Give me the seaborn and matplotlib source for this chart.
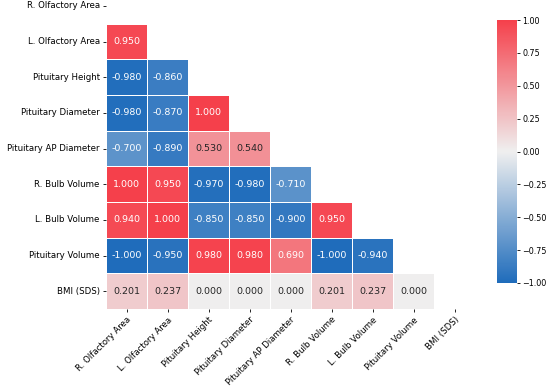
import numpy as np
import pandas as pd
import matplotlib
matplotlib.use("Agg")
import matplotlib.pyplot as plt
import seaborn as sns
from matplotlib.colors import LinearSegmentedColormap

labels = ["R. Olfactory Area", "L. Olfactory Area", "Pituitary Height",
          "Pituitary Diameter", "Pituitary AP Diameter", "R. Bulb Volume",
          "L. Bulb Volume", "Pituitary Volume", "BMI (SDS)"]

# lower triangle, row by row (values left of the diagonal)
row_l_olf = [0.950]
row_pit_height = [-0.980, -0.860]
row_pit_diam = [-0.980, -0.870, 1.000]
row_pit_ap = [-0.700, -0.890, 0.530, 0.540]
row_r_bulb = [1.000, 0.950, -0.970, -0.980, -0.710]
row_l_bulb = [0.940, 1.000, -0.850, -0.850, -0.900, 0.950]
row_pit_vol = [-1.000, -0.950, 0.980, 0.980, 0.690, -1.000, -0.940]
row_bmi = [0.201, 0.237, 0.000, 0.000, 0.000, 0.201, 0.237, 0.000]

lower_rows = [row_l_olf, row_pit_height, row_pit_diam, row_pit_ap,
              row_r_bulb, row_l_bulb, row_pit_vol, row_bmi]

cbar_ticks = [-1, -0.75, -0.5, -0.25, 0, 0.25, 0.5, 0.75, 1]

# build symmetric correlation matrix
n = len(labels)
corr = np.eye(n)
for i, row in enumerate(lower_rows, start=1):
    for j, v in enumerate(row):
        corr[i, j] = v
        corr[j, i] = v
corr_df = pd.DataFrame(corr, index=labels, columns=labels)

mask = np.triu(np.ones_like(corr, dtype=bool))

cmap = LinearSegmentedColormap.from_list(
    "bwr_custom", ["#1f6cbb", "#efefef", "#f5404b"])

fig = plt.figure(figsize=(5.5, 3.87), dpi=100)
ax = fig.add_axes([106 / 550, 78 / 387, 369 / 550, 321 / 387])
cax = fig.add_axes([497 / 550, 104 / 387, 20 / 550, 263 / 387])

sns.heatmap(corr_df, mask=mask, cmap=cmap, vmin=-1, vmax=1, center=0,
            annot=True, fmt=".3f", annot_kws={"fontsize": 6.8},
            linewidths=0.7, linecolor="white", ax=ax, cbar_ax=cax)

ax.set_xticklabels(ax.get_xticklabels(), rotation=45, ha="right",
                   rotation_mode="anchor", fontsize=6.2)
ax.set_yticklabels(ax.get_yticklabels(), rotation=0, fontsize=6.2)
ax.tick_params(length=2.5, width=0.6, pad=2)

cax.tick_params(labelsize=5.8, length=2.5, width=0.6, pad=1.5)
cax.set_yticks(cbar_ticks)
cax.set_yticklabels([f"{t:.2f}".replace("-", "\u2212") for t in cbar_ticks])

fig.savefig("out.png", dpi=100)
